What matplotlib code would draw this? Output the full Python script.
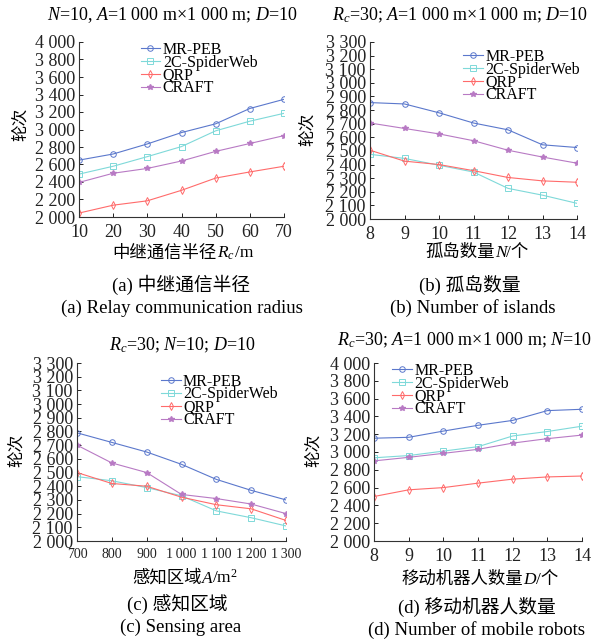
import matplotlib
matplotlib.use("Agg")
import matplotlib.pyplot as plt
import matplotlib.ticker as ticker
from matplotlib.offsetbox import TextArea, HPacker, AnnotationBbox

plt.rcParams['font.family'] = ['Liberation Serif', 'Noto Sans CJK SC']
plt.rcParams['mathtext.fontset'] = 'custom'
plt.rcParams['mathtext.rm'] = 'Liberation Serif'
plt.rcParams['mathtext.it'] = 'Liberation Serif:italic'

series = ["MR-PEB", "2C-SpiderWeb", "QRP", "CRAFT"]

# (a) relay communication radius
x_a = [10, 20, 30, 40, 50, 60, 70]
mrpeb_a = [2650, 2720, 2835, 2965, 3065, 3240, 3345]
spider_a = [2490, 2580, 2690, 2805, 2985, 3095, 3185]
qrp_a = [2045, 2135, 2185, 2305, 2445, 2515, 2580]
craft_a = [2395, 2500, 2555, 2640, 2750, 2840, 2930]

# (b) number of islands
x_b = [8, 9, 10, 11, 12, 13, 14]
mrpeb_b = [2855, 2845, 2780, 2705, 2655, 2545, 2525]
spider_b = [2475, 2445, 2395, 2345, 2225, 2175, 2115]
qrp_b = [2505, 2425, 2400, 2355, 2305, 2280, 2270]
craft_b = [2705, 2665, 2625, 2575, 2505, 2455, 2410]

# (c) sensing area
x_c = [700, 800, 900, 1000, 1100, 1200, 1300]
mrpeb_c = [2790, 2720, 2650, 2560, 2450, 2370, 2300]
spider_c = [2470, 2440, 2390, 2330, 2220, 2170, 2110]
qrp_c = [2500, 2420, 2400, 2320, 2265, 2235, 2150]
craft_c = [2700, 2570, 2500, 2340, 2310, 2270, 2200]

# (d) number of mobile robots
x_d = [8, 9, 10, 11, 12, 13, 14]
mrpeb_d = [3155, 3165, 3235, 3300, 3355, 3465, 3480]
spider_d = [2935, 2960, 3010, 3060, 3180, 3230, 3290]
qrp_d = [2500, 2575, 2600, 2650, 2695, 2720, 2730]
craft_d = [2900, 2940, 2985, 3030, 3100, 3150, 3190]

colors = ['#5b78cc', '#7fd9d9', '#ff6b6b', '#b87ac4']
markers = ['o', 's', 'd', '*']

W, H = 609, 640
fig = plt.figure(figsize=(W / 100, H / 100), dpi=100)


def add_ax(l, r, t, b):
    return fig.add_axes([l / W, 1 - b / H, (r - l) / W, (b - t) / H])


def ftext(x, y, s, size, **kw):
    fig.text(x / W, 1 - y / H, s, fontsize=size, ha='center', va='center', **kw)


def packed(x, y, parts, size):
    # mixed CJK / italic / mathtext label, laid out side by side
    boxes = [TextArea(s, textprops=dict(fontsize=size, fontstyle=st)) for s, st in parts]
    box = HPacker(children=boxes, align='baseline', pad=0, sep=0)
    fig.add_artist(AnnotationBbox(box, (x / W, 1 - y / H), xycoords='figure fraction',
                                  frameon=False, box_alignment=(0.5, 0.5), pad=0))


def fmt(sep):
    return ticker.FuncFormatter(lambda v, _: f'{v:,.0f}'.replace(',', sep))


def panel(ax, x, ys, ylim, ystep, leg_anchor, xsize, xsep=' '):
    for y, c, m, name in zip(ys, colors, markers, series):
        if m == '*':
            ax.plot(x, y, color=c, marker=m, markersize=4, linewidth=0.8, label=name)
        else:
            ax.plot(x, y, color=c, marker=m, markersize=4, markerfacecolor='none',
                    markeredgewidth=0.7, linewidth=0.8, label=name)
    ax.set_xlim(x[0], x[-1])
    ax.set_ylim(*ylim)
    ax.set_xticks(x)
    ax.set_yticks(range(ylim[0], ylim[1] + 1, ystep))
    ax.xaxis.set_major_formatter(fmt(xsep))
    ax.yaxis.set_major_formatter(fmt(' '))
    for s in ['top', 'right']:
        ax.spines[s].set_visible(False)
    for s in ['left', 'bottom']:
        ax.spines[s].set_color('#333333')
        ax.spines[s].set_linewidth(0.8)
    ax.tick_params(direction='in', length=3, width=0.7, colors='#222222', labelsize=13, pad=3)
    ax.tick_params(axis='x', pad=5, labelsize=xsize)
    ax.legend(loc='upper left', bbox_to_anchor=leg_anchor, frameon=False, fontsize=11.5,
              handlelength=1.25, handletextpad=0.15, labelspacing=-0.2, borderpad=0,
              borderaxespad=0)


ax_a = add_ax(79, 284, 42, 217)
panel(ax_a, x_a, [mrpeb_a, spider_a, qrp_a, craft_a], (2000, 4000), 200, (0.30, 1.0), 13)
ax_b = add_ax(370, 577, 42, 219)
panel(ax_b, x_b, [mrpeb_b, spider_b, qrp_b, craft_b], (2000, 3300), 100, (0.45, 0.96), 13)
ax_c = add_ax(77, 286, 363, 541)
panel(ax_c, x_c, [mrpeb_c, spider_c, qrp_c, craft_c], (2000, 3300), 100, (0.40, 0.94), 10,
      '\u2009')
ax_d = add_ax(374, 582, 363, 541)
panel(ax_d, x_d, [mrpeb_d, spider_d, qrp_d, craft_d], (2000, 4000), 200, (0.087, 1.0), 13)

# y labels
for x, y in [(21, 124), (308, 129), (17, 450), (314, 450)]:
    ftext(x, y, '轮次', 12, rotation=90)

# titles
ftext(172, 15, r'$N$=10, $A$=1 000 m×1 000 m; $D$=10', 13)
ftext(460, 15, r'$R_c$=30; $A$=1 000 m×1 000 m; $D$=10', 13)
ftext(182, 345, r'$R_c$=30; $N$=10; $D$=10', 13)
ftext(464, 340, r'$R_c$=30; $A$=1 000 m×1 000 m; $N$=10', 13)

# x labels
packed(183, 253, [('中继通信半径', 'normal'), (r'$R_c$', 'normal'), ('/m', 'normal')], 12.5)
packed(477, 253, [('孤岛数量', 'normal'), ('N', 'italic'), ('/个', 'normal')], 12.5)
packed(185, 578, [('感知区域', 'normal'), ('A', 'italic'), (r'/m$^2$', 'normal')], 12.5)
packed(480, 580, [('移动机器人数量', 'normal'), ('D', 'italic'), ('/个', 'normal')], 12.5)

# captions
ftext(181, 285, '(a) 中继通信半径', 13.5)
ftext(182, 308, '(a) Relay communication radius', 13.5)
ftext(470, 285, '(b) 孤岛数量', 13.5)
ftext(473, 308, '(b) Number of islands', 13.5)
ftext(177, 605, '(c) 感知区域', 13.5)
ftext(181, 627, '(c) Sensing area', 13.5)
ftext(477, 607, '(d) 移动机器人数量', 13.5)
ftext(477, 630, '(d) Number of mobile robots', 13.5)

fig.savefig('out.png', dpi=100)
